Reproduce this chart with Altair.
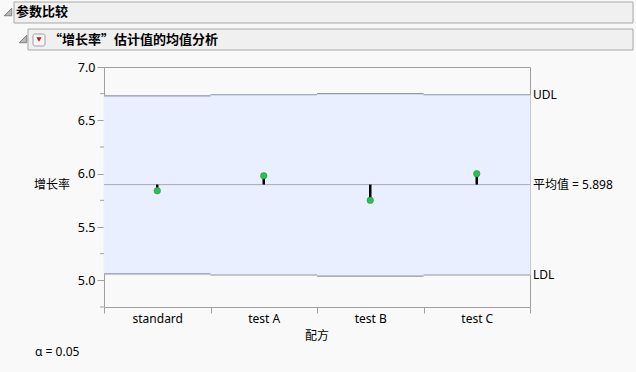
import altair as alt
import pandas as pd

groups = ["standard", "test A", "test B", "test C"]
means = [5.84, 5.98, 5.75, 6.00]
udl = [6.73, 6.74, 6.75, 6.74]
ldl = [5.06, 5.05, 5.04, 5.05]
grand_mean = 5.898
alpha_text = "α = 0.05"
major_ticks = [5.0, 5.5, 6.0, 6.5, 7.0]
minor_ticks = [4.75, 5.25, 5.75, 6.25, 6.75]

FONT = "Noto Sans, Noto Sans CJK SC"
CJK = "Noto Sans CJK SC"

df = pd.DataFrame({"group": groups, "mean": means, "udl": udl, "ldl": ldl,
                   "gm": [grand_mean] * len(groups)})

xs = alt.Scale(domain=groups, paddingInner=0, paddingOuter=0)
ys = alt.Scale(domain=[4.75, 7.0], nice=False, zero=False)

xaxis = alt.Axis(title=None, tickBand="extent", labelAngle=0, domain=False,
                 tickColor="#a0a0a0", tickSize=6, labelPadding=0,
                 labelFontSize=12, labelColor="#000000", labelFont=FONT)
yaxis = alt.Axis(title=None, values=major_ticks, format=".1f", grid=False, domain=False,
                 tickColor="#a0a0a0", tickSize=7, labelOverlap=False,
                 labelFontSize=12.5, labelColor="#000000", labelFont=FONT, labelPadding=2)

base = alt.Chart(df)

band = base.mark_rect(fill="#e9effe", stroke="#e9effe", strokeWidth=1).encode(
    x=alt.X("group:N", scale=xs, axis=xaxis, sort=groups),
    y=alt.Y("ldl:Q", scale=ys, axis=yaxis),
    y2="udl:Q",
)
upper = base.mark_tick(color="#6f7280", thickness=1.2, size=106.5, orient="horizontal").encode(
    x=alt.X("group:N", scale=xs, sort=groups), y=alt.Y("udl:Q", scale=ys))
lower = base.mark_tick(color="#6f7280", thickness=1.2, size=106.5, orient="horizontal").encode(
    x=alt.X("group:N", scale=xs, sort=groups), y=alt.Y("ldl:Q", scale=ys))
meanline = base.mark_rule(color="#adb1c4", strokeWidth=1).encode(y=alt.datum(grand_mean, scale=ys))
needles = base.mark_rule(color="#000000", strokeWidth=2.5).encode(
    x=alt.X("group:N", scale=xs, sort=groups), y=alt.Y("gm:Q", scale=ys), y2="mean:Q")
points = base.mark_point(filled=True, shape="circle", fill="#2cc052", stroke="#1f9a3e",
                         strokeWidth=0.6, opacity=1, size=42).encode(
    x=alt.X("group:N", scale=xs, sort=groups), y=alt.Y("mean:Q", scale=ys))

minor = alt.Chart(pd.DataFrame({"v": minor_ticks})).mark_rule(
    color="#a0a0a0", strokeWidth=1, clip=False).encode(
    x=alt.value(-4), x2=alt.value(0), y=alt.Y("v:Q", scale=ys))

rlab = pd.DataFrame({"label": ["UDL", "平均值 = 5.898", "LDL"],
                     "yv": [udl[-1], grand_mean, ldl[-1]]})
right_labels = alt.Chart(rlab).mark_text(align="left", baseline="middle", fontSize=12,
                                         font=FONT, color="#000000").encode(
    x=alt.value(429), y=alt.Y("yv:Q", scale=ys), text="label:N")

# decorations (header boxes, icons, free texts)
one = pd.DataFrame({"d": [0]})
dec = alt.Chart(one)
box1 = dec.mark_rect(fill="#f0f0f0", stroke="#a8a8a8", strokeWidth=1).encode(
    x=alt.value(-90), x2=alt.value(529), y=alt.value(-65), y2=alt.value(-44))
box2 = dec.mark_rect(fill="#f0f0f0", stroke="#a8a8a8", strokeWidth=1).encode(
    x=alt.value(-76), x2=alt.value(529), y=alt.value(-38), y2=alt.value(-17))
tri1 = dec.mark_point(shape="M 1 -1 L 1 1 L -1 1 Z", filled=True, fill="#b8b8b8",
                      stroke="#707070", strokeWidth=0.8, size=56, opacity=1).encode(
    x=alt.value(-96), y=alt.value(-55))
tri2 = dec.mark_point(shape="M 1 -1 L 1 1 L -1 1 Z", filled=True, fill="#b8b8b8",
                      stroke="#707070", strokeWidth=0.8, size=56, opacity=1).encode(
    x=alt.value(-81), y=alt.value(-28))
ddbox = dec.mark_rect(fill="#f6f6f6", stroke="#a0a0a0", strokeWidth=1, cornerRadius=2).encode(
    x=alt.value(-71), x2=alt.value(-59), y=alt.value(-33), y2=alt.value(-21))
ddtri = dec.mark_point(shape="triangle-down", filled=True, color="#d0101a", size=28, opacity=1).encode(
    x=alt.value(-65), y=alt.value(-27.5))
t1 = dec.mark_text(text="参数比较", align="left", baseline="middle", fontSize=13,
                   fontWeight="bold", font=CJK, color="#000000").encode(
    x=alt.value(-88), y=alt.value(-55))
t2 = dec.mark_text(text="“增长率”估计值的均值分析", align="left", baseline="middle", fontSize=13,
                   fontWeight="bold", font=CJK, color="#000000").encode(
    x=alt.value(-55), y=alt.value(-27))
ytitle = dec.mark_text(text="增长率", align="center", baseline="middle", fontSize=12,
                       font=CJK, color="#000000").encode(x=alt.value(-52), y=alt.value(118))
xtitle = dec.mark_text(text="配方", align="center", baseline="middle", fontSize=12,
                       font=CJK, color="#000000").encode(x=alt.value(213), y=alt.value(269))
atext = dec.mark_text(text=alpha_text, align="left", baseline="middle", fontSize=12,
                      font=FONT, color="#000000").encode(x=alt.value(-69), y=alt.value(285))

chart = alt.layer(
    band, upper, lower, meanline, needles, points, minor, right_labels,
    box1, box2, tri1, tri2, ddbox, ddtri, t1, t2, ytitle, xtitle, atext
).properties(
    width=426, height=240,
    autosize=alt.AutoSizeParams(type="none"),
    padding={"left": 104, "top": 67, "right": 106, "bottom": 65},
    background="#f9f9f9",
).configure_view(stroke="#a0a0a0", strokeWidth=1)

chart.save("out.html", embed_options={"renderer": "svg", "actions": False})
